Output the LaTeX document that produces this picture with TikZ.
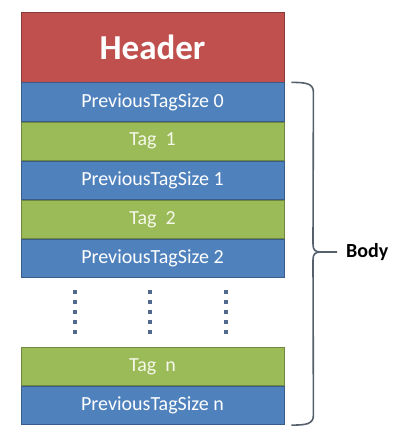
\documentclass[tikz,border=0pt]{standalone}
\usepackage{fontspec}
\setmainfont{Carlito}
\usetikzlibrary{positioning}
\definecolor{hdrred}{RGB}{192,80,77}
\definecolor{ptsblue}{RGB}{79,129,189}
\definecolor{taggreen}{RGB}{155,187,89}
\definecolor{bracegray}{RGB}{85,96,108}
\definecolor{dotblue}{RGB}{80,105,140}
\definecolor{tagtext}{RGB}{245,248,232}

\begin{document}
\begin{tikzpicture}[x=1pt, y=1pt,
cellbox/.style={draw=#1!72!black, fill=#1, line width=0.8pt, minimum width=263pt,
    minimum height=38.3pt, inner sep=0pt, font=\fontsize{20}{20}\selectfont},
ptsbox/.style={cellbox=ptsblue, text=white},
tagbox/.style={cellbox=taggreen, text=tagtext},
node distance=0pt
]
    \useasboundingbox (0,0) rectangle (408,-441);

    %Cells
    \node[cellbox=hdrred, minimum height=70pt, text=white,
          font=\fontsize{35}{35}\selectfont\bfseries]
        (hdr)   at (152.5,-47)      {Header};
    \node[ptsbox]   (pts0)  [below=of hdr]      {PreviousTagSize 0};
    \node[tagbox]   (tag1)  [below=of pts0]     {Tag\ \ 1};
    \node[ptsbox]   (pts1)  [below=of tag1]     {PreviousTagSize 1};
    \node[tagbox]   (tag2)  [below=of pts1]     {Tag\ \ 2};
    \node[ptsbox]   (pts2)  [below=of tag2]     {PreviousTagSize 2};
    \node[tagbox]   (tagn)  [below=69pt of pts2] {Tag\ \ n};
    \node[ptsbox]   (ptsn)  [below=of tagn]     {PreviousTagSize n};

    %Dots
    \foreach \dx in {-77.5,-2.5,73.5}
        \draw[dotblue, line width=4pt, dash pattern=on 4pt off 6pt]
            ([xshift=\dx pt, yshift=-12pt]pts2.south) -- ([xshift=\dx pt, yshift=-60pt]pts2.south);

    %Brace
    \coordinate (brtop) at ([xshift=7pt]pts0.north east);
    \coordinate (brbot) at ([xshift=7pt]ptsn.south east);
    \coordinate (brtip) at (337,-252);
    \node[anchor=west, font=\fontsize{20}{20}\selectfont\bfseries, inner sep=0pt]
        (body)  [right=9pt of brtip]    {Body};
    \draw[bracegray, line width=1.6pt]
        (brtop) .. controls ++(15,0) and ++(0,9) .. ++(22,-10)
        -- (313,-244) .. controls (313,-250) and (315,-252) .. (321,-252)
        -- (brtip);
    \draw[bracegray, line width=1.6pt]
        (brbot) .. controls ++(15,0) and ++(0,-9) .. ++(22,10)
        -- (313,-260) .. controls (313,-254) and (315,-252) .. (321,-252);
\end{tikzpicture}
\end{document}
